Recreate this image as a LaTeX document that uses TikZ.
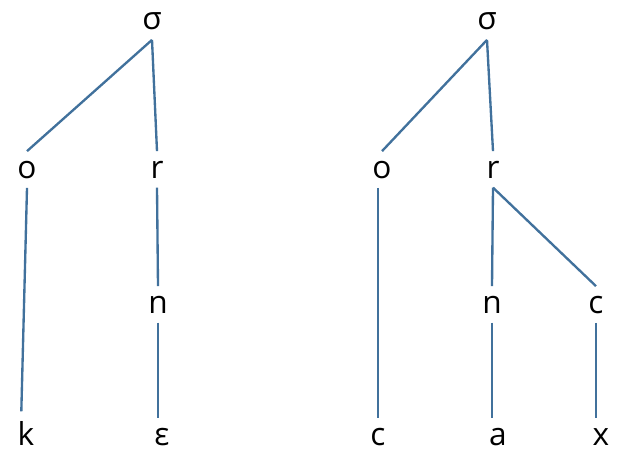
\documentclass[tikz,border=0pt]{standalone}
\usepackage{fontspec}
\setmainfont{Open Sans}
\definecolor{cline}{HTML}{41719C}
\tikzset{
  every picture/.style={x=0.03cm, y=-0.03cm},
  seg/.style={anchor=base, inner sep=8pt, font=\fontsize{27}{32}\selectfont},
  branch/.style={draw=cline, line width=2pt},
}
\begin{document}
\begin{tikzpicture}
  \useasboundingbox (0,0) rectangle (621,450);
  % left tree
  \node[seg] (sigmaL) at (152,30) {σ};
  \node[seg] (oL) at (27,178) {o};
  \node[seg] (rL) at (157,178) {r};
  \node[seg] (nL) at (158,313) {n};
  \node[seg] (kL) at (26,445) {k};
  \node[seg] (epsL) at (162,445) {ε};
  \draw[branch] (sigmaL.south) -- (oL.north);
  \draw[branch] (sigmaL.south) -- (rL.north);
  \draw[branch] (oL.south) -- ([xshift=-4]kL.north);
  \draw[branch] (rL.south) -- (nL.north);
  \draw[branch] (nL.south) -- (nL.south |- epsL.north);
  % right tree
  \node[seg] (sigmaR) at (487,30) {σ};
  \node[seg] (oR) at (382,178) {o};
  \node[seg] (rR) at (493,178) {r};
  \node[seg] (nR) at (492,313) {n};
  \node[seg] (codaR) at (596,313) {c};
  \node[seg] (cR) at (378,445) {c};
  \node[seg] (aR) at (498,445) {a};
  \node[seg] (xR) at (601,445) {x};
  \draw[branch] (sigmaR.south) -- (oR.north);
  \draw[branch] (sigmaR.south) -- (rR.north);
  \draw[branch] (cR.north |- oR.south) -- (cR.north);
  \draw[branch] (rR.south) -- (nR.north);
  \draw[branch] (rR.south) -- (codaR.north);
  \draw[branch] (nR.south) -- (nR.south |- aR.north);
  \draw[branch] (codaR.south) -- (codaR.south |- xR.north);
\end{tikzpicture}
\end{document}
